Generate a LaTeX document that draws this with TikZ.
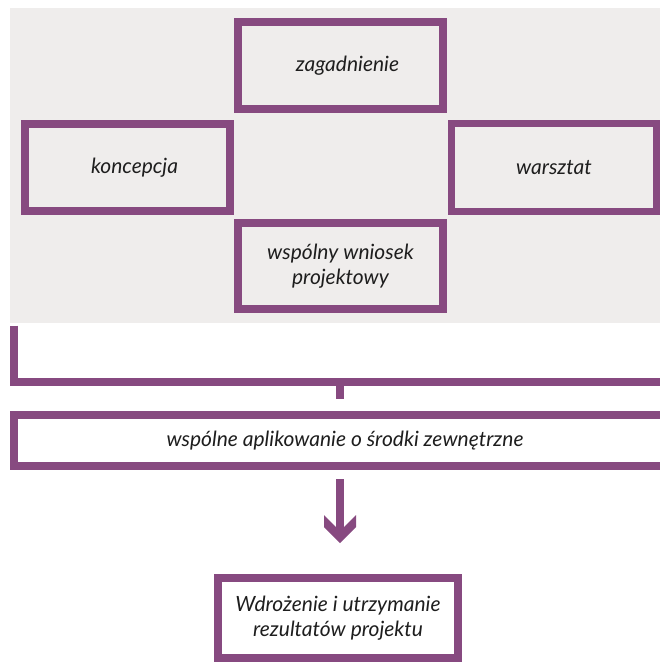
\documentclass[tikz,border=0pt]{standalone}
\usepackage{fontspec}
\setmainfont{Lato}
\definecolor{plum}{HTML}{874A80}
\definecolor{bggray}{HTML}{EFEDEC}
\definecolor{txt}{HTML}{1E1E1E}
\tikzset{
  box/.style={draw=plum, line width=8pt, rectangle, inner sep=0pt, align=center,
    font=\fontsize{21}{25}\selectfont\itshape, text=txt},
  conn/.style={draw=plum, line width=8pt},
}
\begin{document}
\begin{tikzpicture}[x=1pt,y=-1pt]
\useasboundingbox (0,0) rectangle (660,664);
\begin{scope}
\clip (0,0) rectangle (660,664);
\fill[bggray] (10,8) rectangle (664,322.7);
\node[box, minimum width=205pt, minimum height=87pt] (zag) at (340.5,65.5) {\hspace*{14pt}zagadnienie};
\node[box, minimum width=205pt, minimum height=87pt] (kon) at (127.5,167.5) {\hspace*{14pt}koncepcja};
\node[box, line width=7pt, minimum width=205pt, minimum height=88pt] (war) at (554,167.5) {warsztat};
\node[box, minimum width=205pt, minimum height=86pt] (wsp) at (340.5,266) {wspólny wniosek\\projektowy};
% bracket
\coordinate (b1) at (14,325.7);
\coordinate (b2) at (14,381.8);
\coordinate (b3) at (670,381.8);
\draw[conn, miter limit=10] (b1) -- (b2) -- (b3);
\node[box, minimum width=656pt, minimum height=51pt, fill=white] (apl) at (342,440.5) {};
\node[font=\fontsize{21}{25}\selectfont\itshape, text=txt] (apltxt) at (345,440.5) {wspólne aplikowanie o środki zewnętrzne};
\coordinate (s1) at (340,385.8);
\draw[conn] (s1) -- (340,399) coordinate (s2);
\node[box, minimum width=240pt, minimum height=80pt, fill=white] (res) at (338,618) {Wdrożenie i utrzymanie\\rezultatów projektu};
% arrow
\coordinate (a1) at (340,479);
\coordinate (a2) at (340,533);
\draw[conn] (a1) -- (a2);
\fill[plum] (324,515) -- (340,531) -- (356,515) -- (356,527) -- (340,543) -- (324,527) -- cycle;
\end{scope}
\end{tikzpicture}
\end{document}
